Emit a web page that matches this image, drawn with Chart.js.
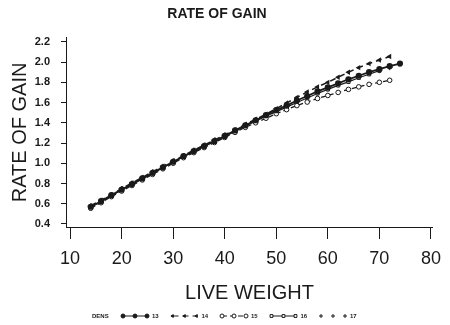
<!DOCTYPE html>
<html>
<head>
<meta charset="utf-8">
<script src="https://cdn.jsdelivr.net/npm/chart.js@4.4.1/dist/chart.umd.min.js"></script>
<style>
  html, body { margin: 0; padding: 0; background: #fff; }
  #wrap { width: 450px; height: 325px; }
</style>
</head>
<body>
<div id="wrap"><canvas id="chart"></canvas></div>
<script>
// live weight (x) shared by all density groups
const weights = [14, 16, 18, 20, 22, 24, 26, 28, 30, 32, 34, 36, 38, 40, 42, 44,
  46, 48, 50, 52, 54, 56, 58, 60, 62, 64, 66, 68, 70, 72, 74];

// rate of gain per density
const dens13 = [0.57, 0.625, 0.685, 0.74, 0.795, 0.85, 0.905, 0.96, 1.015, 1.07, 1.12,
  1.17, 1.22, 1.27, 1.325, 1.375, 1.425, 1.475, 1.525, 1.57, 1.62, 1.665, 1.71, 1.75,
  1.79, 1.83, 1.865, 1.9, 1.93, 1.96, 1.985];
const dens14 = [0.58, 0.635, 0.69, 0.75, 0.805, 0.86, 0.915, 0.97, 1.025, 1.075, 1.13,
  1.18, 1.23, 1.28, 1.33, 1.385, 1.435, 1.485, 1.54, 1.595, 1.65, 1.705, 1.755, 1.8,
  1.85, 1.9, 1.945, 1.985, 2.02, 2.055];
const dens15 = [0.555, 0.61, 0.67, 0.725, 0.78, 0.835, 0.89, 0.945, 1.0, 1.055, 1.105,
  1.155, 1.205, 1.255, 1.305, 1.355, 1.4, 1.445, 1.49, 1.53, 1.57, 1.605, 1.64, 1.67,
  1.7, 1.73, 1.755, 1.78, 1.8, 1.82];
const dens16 = [0.565, 0.62, 0.68, 0.735, 0.79, 0.845, 0.9, 0.955, 1.01, 1.065, 1.115,
  1.165, 1.215, 1.265, 1.315, 1.365, 1.415, 1.465, 1.51, 1.555, 1.6, 1.645, 1.69, 1.73,
  1.77, 1.805, 1.845, 1.88, 1.915];
const dens17 = [0.575, 0.63, 0.685, 0.745, 0.8, 0.855, 0.91, 0.965, 1.02, 1.07, 1.125,
  1.175, 1.225, 1.275, 1.325, 1.375, 1.425, 1.475, 1.52, 1.565, 1.61, 1.655, 1.7, 1.74,
  1.78, 1.82, 1.855, 1.89, 1.92, 1.95];

const densLabels = ['13', '14', '15', '16', '17'];
const xTicks = [10, 20, 30, 40, 50, 60, 70, 80];
const yTicks = [0.4, 0.6, 0.8, 1.0, 1.2, 1.4, 1.6, 1.8, 2.0, 2.2];

const FONT = '"Liberation Sans", Arial, sans-serif';
const INK = '#1a1a1a';

function toPoints(vals) {
  return vals.map((v, i) => ({ x: weights[i], y: v }));
}

// little legend row at the bottom: "DENS  -o-o-o 13  ..."
const densLegend = {
  id: 'densLegend',
  afterDraw(chart) {
    const ctx = chart.ctx;
    const y = 316;
    ctx.save();
    ctx.font = 'bold 6px ' + FONT;
    ctx.fillStyle = INK;
    ctx.textBaseline = 'middle';
    ctx.fillText('DENS', 92, y);
    chart.data.datasets.forEach((ds, i) => {
      const x0 = 123 + i * 49.5;
      const w = 24;
      ctx.strokeStyle = INK;
      if (ds.showLine !== false) {
        ctx.lineWidth = 1;
        ctx.setLineDash(ds.borderDash || []);
        ctx.beginPath();
        ctx.moveTo(x0, y);
        ctx.lineTo(x0 + w, y);
        ctx.stroke();
        ctx.setLineDash([]);
      }
      [0, w / 2, w].forEach(dx => {
        ctx.fillStyle = ds.pointBackgroundColor || INK;
        ctx.strokeStyle = INK;
        Chart.helpers.drawPoint(ctx, {
          pointStyle: ds.pointStyle,
          rotation: ds.pointRotation || 0,
          radius: Math.min(ds.pointRadius, 2),
          borderWidth: 1
        }, x0 + dx, y);
      });
      ctx.fillStyle = INK;
      ctx.fillText(ds.label, x0 + w + 5, y);
    });
    ctx.restore();
  }
};

new Chart(document.getElementById('chart'), {
  type: 'scatter',
  data: {
    datasets: [{
      label: densLabels[0],
      data: toPoints(dens13),
      showLine: true,
      borderColor: INK,
      borderWidth: 1.8,
      pointStyle: 'circle',
      pointRadius: 2.2,
      pointBackgroundColor: INK,
      pointBorderColor: INK
    }, {
      label: densLabels[1],
      data: toPoints(dens14),
      showLine: true,
      borderColor: INK,
      borderWidth: 1.5,
      borderDash: [6, 4],
      pointStyle: 'triangle',
      pointRotation: -90,
      pointRadius: 1.6,
      pointBackgroundColor: INK,
      pointBorderColor: INK
    }, {
      label: densLabels[2],
      data: toPoints(dens15),
      showLine: true,
      borderColor: INK,
      borderWidth: 1.3,
      borderDash: [5, 3],
      pointStyle: 'circle',
      pointRadius: 2.3,
      pointBorderWidth: 1,
      pointBackgroundColor: '#fff',
      pointBorderColor: INK
    }, {
      label: densLabels[3],
      data: toPoints(dens16),
      showLine: true,
      borderColor: INK,
      borderWidth: 1.2,
      pointStyle: 'rect',
      pointRadius: 2.3,
      pointBorderWidth: 1,
      pointBackgroundColor: '#fff',
      pointBorderColor: INK
    }, {
      label: densLabels[4],
      data: toPoints(dens17),
      showLine: false,
      borderColor: INK,
      pointStyle: 'cross',
      pointRadius: 3,
      pointBorderWidth: 1,
      pointBackgroundColor: INK,
      pointBorderColor: INK
    }]
  },
  options: {
    responsive: true,
    maintainAspectRatio: false,
    animation: false,
    layout: { padding: { top: 0, left: 0, right: 16, bottom: 20 } },
    plugins: {
      legend: { display: false },
      tooltip: { enabled: false },
      title: {
        display: true,
        text: 'RATE OF GAIN',
        color: INK,
        font: { family: FONT, size: 14, weight: 'bold' },
        padding: { top: 6, bottom: 15 }
      }
    },
    scales: {
      x: {
        type: 'linear',
        min: 9.2,
        max: 80.4,
        afterBuildTicks: s => { s.ticks = xTicks.map(v => ({ value: v })); },
        afterFit: s => { s.height = 78; },
        border: { display: true, color: INK, width: 1 },
        grid: { drawOnChartArea: false, drawTicks: true, tickLength: 12, color: INK },
        ticks: { color: INK, padding: 9, maxRotation: 0, font: { family: FONT, size: 18 } },
        title: {
          display: true,
          text: 'LIVE WEIGHT',
          color: INK,
          font: { family: FONT, size: 20 },
          padding: { top: 0, bottom: 0 }
        }
      },
      y: {
        type: 'linear',
        min: 0.37,
        max: 2.24,
        afterBuildTicks: s => { s.ticks = yTicks.map(v => ({ value: v })); },
        afterFit: s => { s.width = 66; },
        border: { display: true, color: INK, width: 1 },
        grid: { drawOnChartArea: false, drawTicks: true, tickLength: 5, color: INK },
        ticks: {
          color: INK,
          padding: 11,
          font: { family: FONT, size: 11, weight: 'bold' },
          callback: v => v.toFixed(1)
        },
        title: {
          display: true,
          text: 'RATE OF GAIN',
          color: INK,
          font: { family: FONT, size: 20 },
          padding: { top: 8, bottom: 0 }
        }
      }
    }
  },
  plugins: [densLegend]
});
</script>
</body>
</html>
